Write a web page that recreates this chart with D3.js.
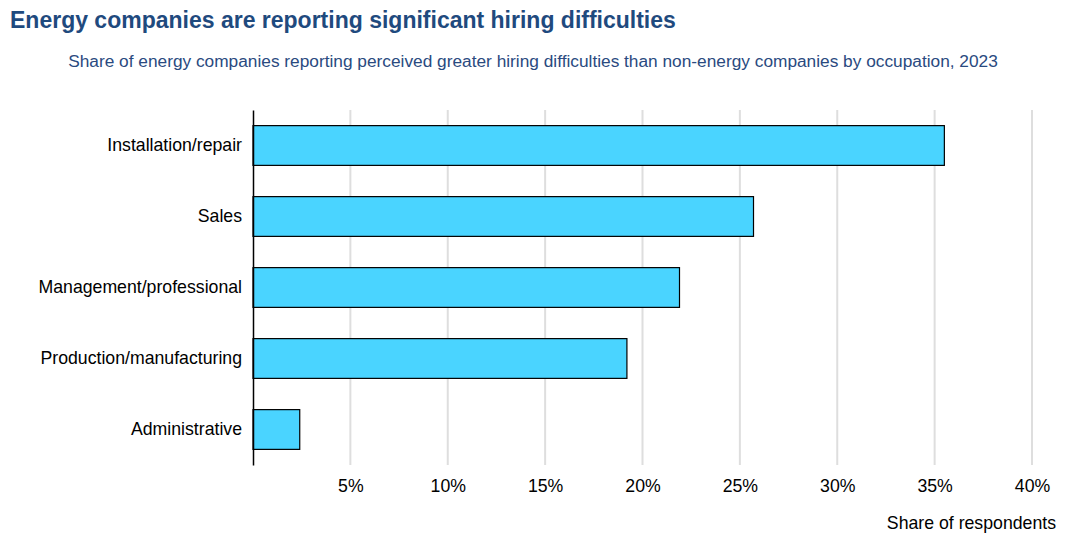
<!DOCTYPE html>
<html>
<head>
<meta charset="utf-8">
<script src="https://cdn.jsdelivr.net/npm/d3@7"></script>
<style>
  body { margin: 0; background: #fff; font-family: "Liberation Sans", Arial, sans-serif; }
</style>
</head>
<body>
<div class="chart"></div>
<script>
"use strict";

const categories = ["Installation/repair", "Sales", "Management/professional", "Production/manufacturing", "Administrative"];
const values = [35.5, 25.7, 21.9, 19.2, 2.4];
const xTicks = [5, 10, 15, 20, 25, 30, 35, 40];

const data = categories.map((c, i) => ({ name: c, value: values[i] }));

const W = 1066, H = 537;
const margin = { top: 110, right: 34, bottom: 72, left: 253 };
const width = W - margin.left - margin.right;
const height = H - margin.top - margin.bottom;

const root = d3.select(".chart").append("svg")
  .attr("width", W)
  .attr("height", H)
  .style("font-family", "'Liberation Sans', Arial, sans-serif");

root.append("text")
  .attr("x", 10)
  .attr("y", 28)
  .attr("font-size", 23)
  .attr("font-weight", 700)
  .attr("fill", "#1f4a7e")
  .text("Energy companies are reporting significant hiring difficulties");

root.append("text")
  .attr("x", 533)
  .attr("y", 67)
  .attr("text-anchor", "middle")
  .attr("font-size", 17.3)
  .attr("fill", "#2a4a80")
  .text("Share of energy companies reporting perceived greater hiring difficulties than non-energy companies by occupation, 2023");

const svg = root.append("g")
  .attr("transform", `translate(${margin.left},${margin.top})`);

const x = d3.scaleLinear().domain([0, 40]).range([0, 779]);
const y = d3.scaleBand().domain(categories).range([0, height]).paddingInner(0.44).paddingOuter(0.22);

// grid lines
svg.append("g")
  .selectAll("line")
  .data(xTicks)
  .join("line")
  .attr("x1", (d) => x(d))
  .attr("x2", (d) => x(d))
  .attr("y1", 0)
  .attr("y2", height)
  .attr("stroke", "#dedede")
  .attr("stroke-width", 2);

// x axis labels
const xAxis = d3.axisBottom(x).tickValues(xTicks).tickFormat((d) => d + "%").tickSize(0).tickPadding(14);
svg.append("g")
  .attr("transform", `translate(0,${height})`)
  .call(xAxis)
  .call((g) => g.select(".domain").remove())
  .call((g) => g.selectAll("text").attr("font-size", 17.7).attr("fill", "#000").style("font-family", "'Liberation Sans', Arial, sans-serif"));

// bars
svg.append("g")
  .selectAll("rect")
  .data(data)
  .join("rect")
  .attr("x", x(0))
  .attr("y", (d) => y(d.name))
  .attr("width", (d) => x(d.value) - x(0))
  .attr("height", y.bandwidth())
  .attr("fill", "#4ad4ff")
  .attr("stroke", "#000")
  .attr("stroke-width", 1.2);

// y axis
const yAxis = d3.axisLeft(y).tickSize(0).tickPadding(11);
svg.append("g")
  .call(yAxis)
  .call((g) => g.select(".domain").attr("stroke", "#000").attr("stroke-width", 1.5))
  .call((g) => g.selectAll("text").attr("font-size", 17.7).attr("fill", "#000").style("font-family", "'Liberation Sans', Arial, sans-serif"));

root.append("text")
  .attr("x", 1056)
  .attr("y", 529)
  .attr("text-anchor", "end")
  .attr("font-size", 17.7)
  .attr("fill", "#000")
  .text("Share of respondents");
</script>
</body>
</html>
